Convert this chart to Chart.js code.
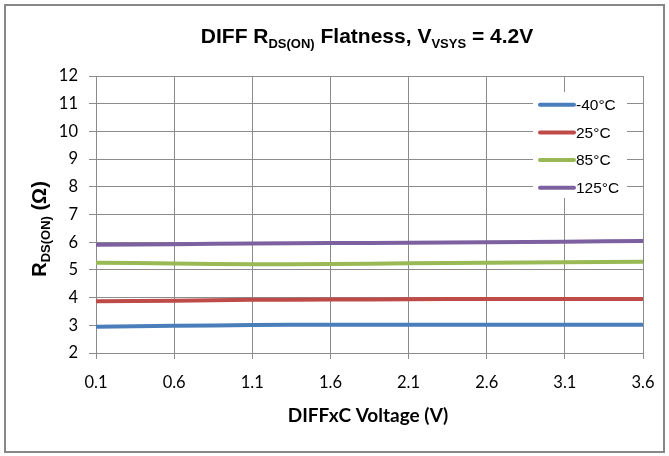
<!DOCTYPE html>
<html>
<head>
<meta charset="utf-8">
<script src="https://cdn.jsdelivr.net/npm/chart.js@4.4.0/dist/chart.umd.min.js"></script>
<style>
  html, body { margin: 0; padding: 0; background: #fff; }
  #wrap { width: 669px; height: 456px; }
</style>
</head>
<body>
<div id="wrap"><canvas id="c" width="669" height="456"></canvas></div>
<script>
// data
var voltage = [0.1, 0.6, 1.1, 1.6, 2.1, 2.6, 3.1, 3.6];
var seriesNames = ["-40°C", "25°C", "85°C", "125°C"];
var rdsM40 = [2.95, 2.98, 3.01, 3.02, 3.02, 3.02, 3.02, 3.02];
var rds25 = [3.87, 3.89, 3.92, 3.93, 3.94, 3.95, 3.95, 3.95];
var rds85 = [5.26, 5.23, 5.20, 5.21, 5.24, 5.26, 5.28, 5.29];
var rds125 = [5.91, 5.93, 5.95, 5.97, 5.98, 6.00, 6.02, 6.04];
var xMin = 0.1, xMax = 3.6, xStep = 0.5;
var yMin = 2, yMax = 12, yStep = 1;

var colors = ["#4a7ebb", "#be4b48", "#98b954", "#7d60a0"];
var allSeries = [rdsM40, rds25, rds85, rds125];

var gridColor = "#8c8c8c";
var tickFont = "Lato";
var arial = "'Liberation Sans', Arial";

function toPoints(ys) {
    return voltage.map(function (v, i) { return { x: v, y: ys[i] }; });
}

// draws text with subscript parts, centred on cx, baseline y
function drawRich(ctx, parts, cx, y, size, subSize, family) {
    var total = 0;
    parts.forEach(function (p) {
        ctx.font = "bold " + (p.sub ? subSize : size) + "px " + family;
        p.w = ctx.measureText(p.t).width;
        total += p.w;
    });
    var x = cx - total / 2;
    ctx.textAlign = "left";
    ctx.textBaseline = "alphabetic";
    parts.forEach(function (p) {
        ctx.font = "bold " + (p.sub ? subSize : size) + "px " + family;
        ctx.fillText(p.t, x, p.sub ? y + size * 0.22 : y);
        x += p.w;
    });
}

var decorations = {
    id: "decorations",
    beforeDraw: function (chart) {
        var ctx = chart.ctx;
        ctx.save();
        ctx.fillStyle = "#fff";
        ctx.fillRect(0, 0, chart.width, chart.height);
        ctx.strokeStyle = "#878787";
        ctx.lineWidth = 2;
        ctx.strokeRect(5, 5, 659, 447);
        ctx.restore();
    },
    afterDraw: function (chart) {
        var ctx = chart.ctx;
        ctx.save();
        ctx.fillStyle = "#000";

        // chart title
        drawRich(ctx, [
            { t: "DIFF R" }, { t: "DS(ON)", sub: true }, { t: " Flatness, V" },
            { t: "VSYS", sub: true }, { t: " = 4.2V" }
        ], 367, 43, 21, 13, arial);

        // x axis title
        drawRich(ctx, [{ t: "DIFFxC Voltage (V)" }], 368, 422, 19, 12, tickFont);

        // y axis title
        ctx.save();
        ctx.translate(46, 229);
        ctx.rotate(-Math.PI / 2);
        drawRich(ctx, [{ t: "R" }, { t: "DS(ON)", sub: true }, { t: " (Ω)" }], 0, 0, 20, 13, arial);
        ctx.restore();

        // legend, inside plot area
        ctx.fillStyle = "#fff";
        ctx.fillRect(533, 92, 94, 106);
        var yScale = chart.scales.y;
        seriesNames.forEach(function (name, i) {
            var rowY = yScale.getPixelForValue(11 - i) + 1;
            ctx.strokeStyle = colors[i];
            ctx.lineWidth = 4;
            ctx.lineCap = "round";
            ctx.beginPath();
            ctx.moveTo(540, rowY);
            ctx.lineTo(574, rowY);
            ctx.stroke();
            ctx.fillStyle = "#000";
            ctx.font = "15.5px " + arial;
            ctx.textAlign = "left";
            ctx.textBaseline = "middle";
            ctx.fillText(name, 576, rowY + 1);
        });
        ctx.restore();
    }
};

new Chart(document.getElementById("c").getContext("2d"), {
    type: "line",
    data: {
        datasets: seriesNames.map(function (name, i) {
            return {
                label: name,
                data: toPoints(allSeries[i]),
                borderColor: colors[i],
                backgroundColor: colors[i],
                borderWidth: 4,
                pointRadius: 0,
                tension: 0.2,
                borderCapStyle: "butt"
            };
        })
    },
    options: {
        responsive: false,
        animation: false,
        layout: { padding: { left: 0, right: 26, top: 76, bottom: 0 } },
        plugins: { legend: { display: false }, title: { display: false }, tooltip: { enabled: false } },
        scales: {
            x: {
                type: "linear",
                min: xMin,
                max: xMax,
                afterFit: function (s) { s.height = 103; },
                ticks: {
                    stepSize: xStep,
                    padding: 14,
                    color: "#000",
                    font: { family: tickFont, size: 16.5 },
                    callback: function (v) { return v.toFixed(1); }
                },
                grid: { color: gridColor, tickLength: 6, tickColor: gridColor },
                border: { color: gridColor }
            },
            y: {
                min: yMin,
                max: yMax,
                afterFit: function (s) { s.width = 96; },
                ticks: {
                    stepSize: yStep,
                    padding: 11,
                    color: "#000",
                    font: { family: tickFont, size: 16.5 }
                },
                grid: { color: gridColor, tickLength: 7, tickColor: gridColor },
                border: { color: gridColor }
            }
        }
    },
    plugins: [decorations]
});
</script>
</body>
</html>
